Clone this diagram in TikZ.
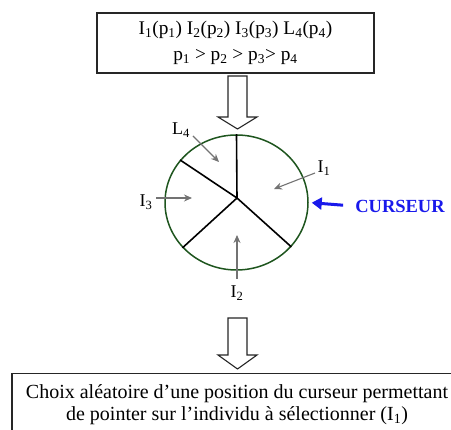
\documentclass[tikz,border=0pt]{standalone}
\usepackage{fontspec}
\setmainfont{Liberation Serif}
\usetikzlibrary{shapes.geometric,arrows.meta}
\definecolor{wheelgreen}{RGB}{30,85,30}
\definecolor{cursorblue}{RGB}{25,25,235}
\begin{document}
\begin{tikzpicture}[x=1pt,y=-1pt,
  box/.style={draw=black!85, line width=1.5pt, inner sep=0pt, align=center},
  hollow/.style={draw=black!85, line width=1.1pt, fill=white, line join=miter},
  spoke/.style={draw=black, line width=1.6pt},
  pointer/.style={draw=black!55, line width=1.1pt, -{Stealth[length=8pt,width=7pt]}},
  lbl/.style={font=\fontsize{18}{18}\selectfont, inner sep=1pt}]
\useasboundingbox (0,0) rectangle (451,430);
\clip (0,0) rectangle (451,430);

% top box
\node[box, minimum width=277pt, minimum height=60pt,
      font=\fontsize{19.3}{26}\selectfont] (top) at (235.5,43)
  {I\textsubscript{1}(p\textsubscript{1}) I\textsubscript{2}(p\textsubscript{2}) I\textsubscript{3}(p\textsubscript{3}) L\textsubscript{4}(p\textsubscript{4})\\
   p\textsubscript{1} > p\textsubscript{2} > p\textsubscript{3}> p\textsubscript{4}};

% hollow arrow 1
\draw[hollow] (228,76) -- (247,76) -- (247,117) -- (257,117) -- (237.5,129)
  -- (218,117) -- (228,117) -- cycle;

% wheel
\node[ellipse, draw=wheelgreen, line width=1.5pt, minimum width=143pt,
      minimum height=135pt, inner sep=0pt] (wheel) at (236.5,202.5) {};
\coordinate (hub) at (237,198);
\draw[spoke] (hub) -- (wheel.north);
\draw[spoke] (hub) -- (wheel.143);
\draw[spoke] (hub) -- (wheel.220);
\draw[spoke] (hub) -- (wheel.321);

% labels
\node[lbl] (L4) at (181,130) {L\textsubscript{4}};
\coordinate (t4) at (219,162);
\draw[pointer] (193,136) -- (t4);

\node[lbl] (I1) at (324,168) {I\textsubscript{1}};
\coordinate (t1) at (274,189);
\draw[pointer] (315,173) -- (t1);

\node[lbl] (I3) at (146,202) {I\textsubscript{3}};
\coordinate (t3) at (192,198);
\draw[pointer] (156,198) -- (t3);

\node[lbl] (I2) at (237,293) {I\textsubscript{2}};
\coordinate (t2) at (237,235);
\draw[pointer] (237,279) -- (t2);

% cursor
\node[text=cursorblue, font=\bfseries\fontsize{18.5}{18.5}\selectfont, inner sep=2pt] (cur) at (400,206) {CURSEUR};
\draw[cursorblue, line width=3pt, -{Triangle[length=10pt,width=12pt]}, shorten <=10pt, shorten >=3pt] (cur.west) -- (wheel.east);

% hollow arrow 2
\draw[hollow] (228,318) -- (247,318) -- (247,355) -- (257,355) -- (237.5,369)
  -- (218,355) -- (228,355) -- cycle;

% bottom box
\node[box, minimum width=450pt, minimum height=62pt, anchor=north,
      font=\fontsize{20}{21.5}\selectfont] (bottom) at (237,373)
  {Choix aléatoire d’une position du curseur permettant\\
   de pointer sur l’individu à sélectionner (I\textsubscript{1})};
\end{tikzpicture}
\end{document}
